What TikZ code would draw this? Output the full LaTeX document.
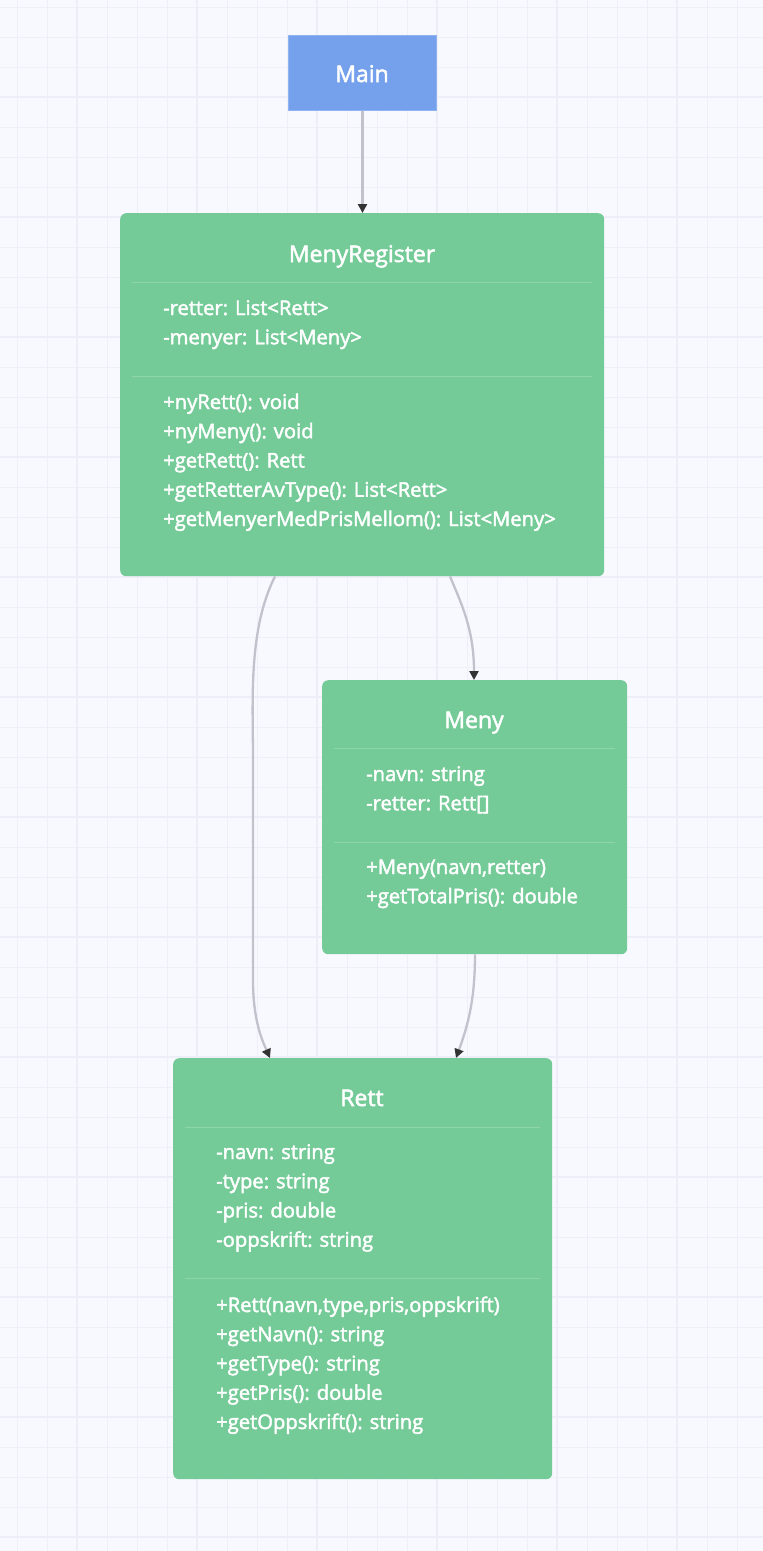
\documentclass[tikz,border=0pt]{standalone}
\usepackage{fontspec}
\setmainfont{Open Sans}[FakeBold=2.2]
\usetikzlibrary{calc,arrows.meta}
\definecolor{bgc}{HTML}{F8F8FF}
\definecolor{gridminor}{HTML}{EFEFFA}
\definecolor{gridmajor}{HTML}{EEEEF9}
\definecolor{mainfill}{HTML}{74A0EC}
\definecolor{mainedge}{HTML}{8FB3F0}
\definecolor{classfill}{HTML}{74CB98}
\definecolor{divider}{HTML}{8ED6AA}
\definecolor{linkc}{HTML}{C2C2CC}
\definecolor{tipc}{HTML}{333333}
\tikzset{
  x=1pt, y=-1pt,
  mainbox/.style={draw=mainedge, line width=1pt, fill=mainfill, anchor=north west, inner sep=0pt},
  classbox/.style={fill=classfill, rounded corners=6pt, anchor=north west, inner sep=0pt},
  title/.style={text=white, font=\fontsize{23}{24}\selectfont, anchor=base, inner sep=0pt},
  member/.style={text=white, font=\fontsize{20.2}{22}\selectfont, anchor=base west, inner sep=0pt},
  sep/.style={draw=divider, line width=1pt},
  link/.style={draw=linkc, line width=2.3pt, -{Triangle[length=9pt,width=9pt,color=tipc]}},
}
\begin{document}
\begin{tikzpicture}
% canvas and grid
\fill[bgc] (0,0) rectangle (763,1551);
\useasboundingbox (0,0) rectangle (763,1551);
\foreach \gx in {17,47,...,763} \draw[gridminor, line width=1pt] (\gx,0) -- (\gx,1551);
\foreach \gy in {7,37,...,1551} \draw[gridminor, line width=1pt] (0,\gy) -- (763,\gy);
\foreach \gx in {77,197,...,763} \draw[gridmajor, line width=2.5pt] (\gx,0) -- (\gx,1551);
\foreach \gy in {97,217,...,1551} \draw[gridmajor, line width=2.5pt] (0,\gy) -- (763,\gy);

% Main
\node[mainbox, minimum width=148pt, minimum height=75pt] (main) at (288,35) {};
\node[title] (mainT) at (362,82) {Main};

% MenyRegister
\node[classbox, minimum width=484pt, minimum height=363pt] (reg) at (120,213) {};
\node[title] (regT) at (362,262) {MenyRegister};
\draw[sep] (132,282) -- (592,282);
\foreach \t [count=\i] in {-retter: List<Rett>, -menyer: List<Meny>}
  \node[member] (regA\i) at (163,315+29.25*\i-29.25) {\t};
\draw[sep] (132,376) -- (592,376);
\foreach \t [count=\i] in {+nyRett(): void, +nyMeny(): void, +getRett(): Rett,
    +getRetterAvType(): List<Rett>, +getMenyerMedPrisMellom(): List<Meny>}
  \node[member] (regM\i) at (163,409+29.25*\i-29.25) {\t};

% Meny
\node[classbox, minimum width=305pt, minimum height=274pt] (meny) at (322,680) {};
\node[title] (menyT) at (474,728) {Meny};
\draw[sep] (334,748) -- (615,748);
\foreach \t [count=\i] in {-navn: string, -retter: Rett[]}
  \node[member] (menyA\i) at (366,781+29.25*\i-29.25) {\t};
\draw[sep] (334,842) -- (615,842);
\foreach \t [count=\i] in {{+Meny(navn,retter)}, +getTotalPris(): double}
  \node[member] (menyM\i) at (366,874+29.25*\i-29.25) {\t};

% Rett
\node[classbox, minimum width=379pt, minimum height=421pt] (rett) at (173,1058) {};
\node[title] (rettT) at (362,1106) {Rett};
\draw[sep] (185,1127) -- (540,1127);
\foreach \t [count=\i] in {-navn: string, -type: string, -pris: double, -oppskrift: string}
  \node[member] (rettA\i) at (216,1159+29.25*\i-29.25) {\t};
\draw[sep] (185,1278) -- (540,1278);
\foreach \t [count=\i] in {{+Rett(navn,type,pris,oppskrift)}, +getNavn(): string,
    +getType(): string, +getPris(): double, +getOppskrift(): string}
  \node[member] (rettM\i) at (216,1312+29.25*\i-29.25) {\t};

% connectors
\draw[link] (main.south) -- (main.south |- reg.north);
\draw[link] ($(reg.south west)+(330,0)$) .. controls (462,605) and (474,630) .. ($(meny.north west)+(152,0)$);
\draw[link] ($(reg.south west)+(155,0)$) .. controls (248,630) and (253,700) .. (253,760)
  -- (253,980) .. controls (253,1020) and (262,1040) .. ($(rett.north west)+(97,0)$);
\draw[link] ($(meny.south west)+(153,0)$) .. controls (475,1000) and (468,1025) .. ($(rett.north west)+(283,0)$);
\end{tikzpicture}
\end{document}
